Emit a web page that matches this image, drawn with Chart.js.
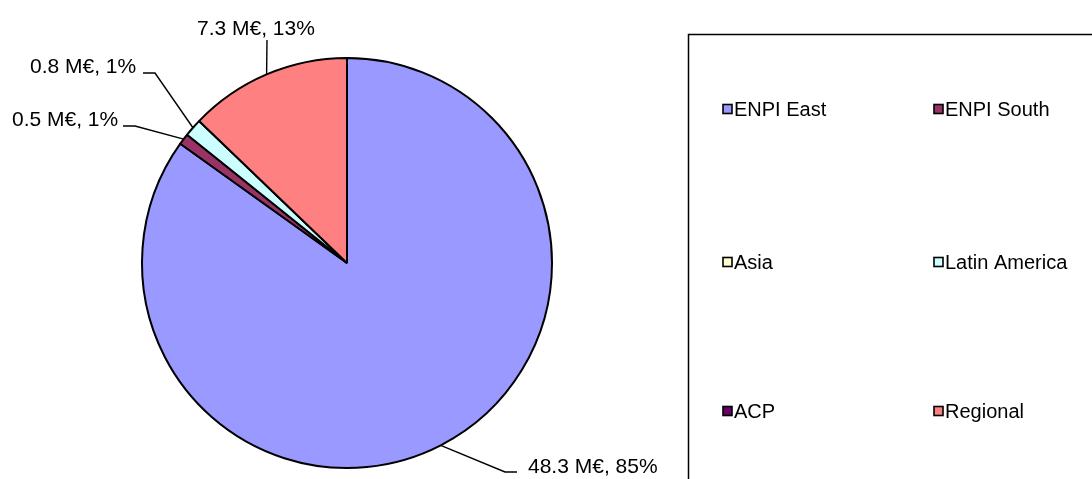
<!DOCTYPE html>
<html>
<head>
<meta charset="utf-8">
<script src="https://cdn.jsdelivr.net/npm/chart.js@4/dist/chart.umd.min.js"></script>
<style>
  html, body { margin: 0; padding: 0; background: #fff; }
  #wrap { width: 1092px; height: 479px; position: relative; }
</style>
</head>
<body>
<div id="wrap"><canvas id="c" width="1092" height="479"></canvas></div>
<script>
const categories = ['ENPI East', 'ENPI South', 'Asia', 'Latin America', 'ACP', 'Regional'];
const amounts = [48.3, 0.5, 0, 0.8, 0, 7.3];          // M€
const percents = [85, 1, 0, 1, 0, 13];                 // % as printed
const colours = ['#9999FF', '#993366', '#FFFFCC', '#CCFFFF', '#660066', '#FF8080'];

// label placement (text anchor + leader elbow), by category index
const labelPlacement = {
  0: { tx: 528, ty: 467, ex: 505, ey: 472, lx: 517, ly: 472 },
  1: { tx: 12,  ty: 120, ex: 135, ey: 126, lx: 123, ly: 126 },
  3: { tx: 30,  ty: 67,  ex: 155, ey: 73,  lx: 143, ly: 73 },
  5: { tx: 197, ty: 29,  ex: 267, ey: 40,  lx: 267, ly: 40 }
};

const LABEL_FONT = '21px "Liberation Sans", Arial, sans-serif';
const LEGEND_FONT = '20px "Liberation Sans", Arial, sans-serif';

const labelPlugin = {
  id: 'pieLabels',
  afterDatasetsDraw(chart) {
    const ctx = chart.ctx;
    const meta = chart.getDatasetMeta(0);
    ctx.save();
    ctx.font = LABEL_FONT;
    ctx.fillStyle = '#000';
    ctx.strokeStyle = '#000';
    ctx.lineWidth = 1.4;
    ctx.textBaseline = 'middle';
    ctx.textAlign = 'left';
    meta.data.forEach((arc, i) => {
      const p = labelPlacement[i];
      if (!p || amounts[i] === 0) return;
      const mid = (arc.startAngle + arc.endAngle) / 2;
      const px = arc.x + Math.cos(mid) * arc.outerRadius;
      const py = arc.y + Math.sin(mid) * arc.outerRadius;
      ctx.beginPath();
      ctx.moveTo(p.lx, p.ly);
      ctx.lineTo(p.ex, p.ey);
      ctx.lineTo(px, py);
      ctx.stroke();
      const txt = amounts[i].toFixed(1) + ' M€, ' + percents[i] + '%';
      ctx.fillText(txt, p.tx, p.ty);
    });
    ctx.restore();
  }
};

const legendPlugin = {
  id: 'boxLegend',
  afterDraw(chart) {
    const ctx = chart.ctx;
    ctx.save();
    ctx.strokeStyle = '#000';
    ctx.lineWidth = 1.5;
    ctx.beginPath();
    ctx.moveTo(688.5, 480);
    ctx.lineTo(688.5, 34.5);
    ctx.lineTo(1093, 34.5);
    ctx.stroke();
    const colX = [723, 934];
    const rowY = [109, 262, 411];
    ctx.font = LEGEND_FONT;
    ctx.textBaseline = 'middle';
    ctx.textAlign = 'left';
    chart.data.labels.forEach((lab, i) => {
      const x = colX[i % 2];
      const y = rowY[Math.floor(i / 2)];
      ctx.fillStyle = chart.data.datasets[0].backgroundColor[i];
      ctx.fillRect(x, y - 4.5, 9, 9);
      ctx.lineWidth = 1.6;
      ctx.strokeStyle = '#000';
      ctx.strokeRect(x, y - 4.5, 9, 9);
      ctx.fillStyle = '#000';
      ctx.fillText(lab, x + 11, y + 1);
    });
    ctx.restore();
  }
};

new Chart(document.getElementById('c'), {
  type: 'pie',
  data: {
    labels: categories,
    datasets: [{
      data: amounts,
      backgroundColor: colours,
      borderColor: '#000',
      borderWidth: 2
    }]
  },
  options: {
    responsive: false,
    animation: false,
    radius: 205,
    layout: { padding: { left: 142, right: 540, top: 58, bottom: 11 } },
    plugins: {
      legend: { display: false },
      tooltip: { enabled: false }
    }
  },
  plugins: [labelPlugin, legendPlugin]
});
</script>
</body>
</html>
